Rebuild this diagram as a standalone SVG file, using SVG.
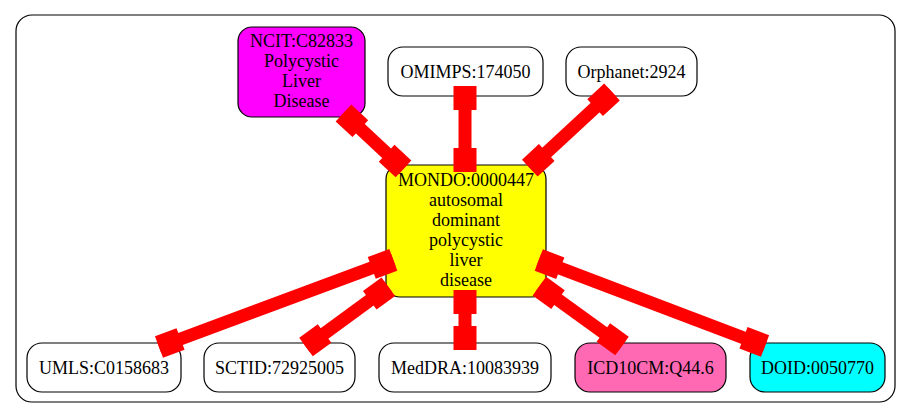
<svg xmlns="http://www.w3.org/2000/svg" width="912" height="419" viewBox="0 0 912 419">
<style>
  .node rect { stroke: #000; stroke-width: 1.2; }
  .node text { font-family: "Liberation Serif", "Times New Roman", serif; font-size: 18px; fill: #000; text-anchor: middle; }
  .edge line { stroke: #ff0000; stroke-width: 13; }
  .edge rect { fill: #ff0000; }
</style>
<rect x="16" y="15" width="879" height="387" rx="16" ry="16" fill="#fff" stroke="#000" stroke-width="1.2"/>

<g id="node-mondo" class="node">
  <rect x="386" y="165" width="160" height="132" rx="14" fill="#ffff00"/>
  <text x="466" y="186">MONDO:0000447</text>
  <text x="466" y="206">autosomal</text>
  <text x="466" y="226">dominant</text>
  <text x="466" y="246">polycystic</text>
  <text x="466" y="266">liver</text>
  <text x="466" y="286">disease</text>
</g>
<g id="node-ncit" class="node">
  <rect x="238" y="27" width="127" height="90" rx="14" fill="#ff00ff"/>
  <text x="301.5" y="47">NCIT:C82833</text>
  <text x="301.5" y="67">Polycystic</text>
  <text x="301.5" y="87">Liver</text>
  <text x="301.5" y="107">Disease</text>
</g>
<g id="node-omimps" class="node">
  <rect x="388" y="47" width="155" height="49" rx="15" fill="#fff"/>
  <text x="465.5" y="77.5">OMIMPS:174050</text>
</g>
<g id="node-orphanet" class="node">
  <rect x="566" y="47" width="131" height="49" rx="15" fill="#fff"/>
  <text x="631.5" y="77.5">Orphanet:2924</text>
</g>
<g id="node-umls" class="node">
  <rect x="27" y="343" width="154" height="49" rx="15" fill="#fff"/>
  <text x="104" y="373.5">UMLS:C0158683</text>
</g>
<g id="node-sctid" class="node">
  <rect x="204" y="343" width="151" height="49" rx="15" fill="#fff"/>
  <text x="279.5" y="373.5">SCTID:72925005</text>
</g>
<g id="node-meddra" class="node">
  <rect x="379" y="343" width="172" height="49" rx="15" fill="#fff"/>
  <text x="465" y="373.5">MedDRA:10083939</text>
</g>
<g id="node-icd10cm" class="node">
  <rect x="575" y="343" width="151" height="49" rx="15" fill="#ff69b4"/>
  <text x="650.5" y="373.5">ICD10CM:Q44.6</text>
</g>
<g id="node-doid" class="node">
  <rect x="750" y="343" width="135" height="49" rx="15" fill="#00ffff"/>
  <text x="817.5" y="373.5">DOID:0050770</text>
</g>

<g id="edges">
  <g class="edge" transform="translate(343.5,113) rotate(43)">
    <line x1="0" y1="0" x2="82" y2="0"/>
    <rect x="0" y="-11.5" width="23" height="23"/>
    <rect x="59" y="-11.5" width="23" height="23"/>
  </g>
  <g class="edge" transform="translate(465,86) rotate(90)">
    <line x1="0" y1="0" x2="86" y2="0"/>
    <rect x="0" y="-11.5" width="24" height="23"/>
    <rect x="62" y="-11.5" width="24" height="23"/>
  </g>
  <g class="edge" transform="translate(612,92) rotate(137.2)">
    <line x1="0" y1="0" x2="112" y2="0"/>
    <rect x="0" y="-11.5" width="23" height="23"/>
    <rect x="89" y="-11.5" width="23" height="23"/>
  </g>
  <g class="edge" transform="translate(159,347) rotate(-20.4)">
    <line x1="0" y1="0" x2="250" y2="0"/>
    <rect x="0" y="-11.5" width="23" height="23"/>
    <rect x="227" y="-11.5" width="23" height="23"/>
  </g>
  <g class="edge" transform="translate(306,347) rotate(-36.2)">
    <line x1="0" y1="0" x2="102" y2="0"/>
    <rect x="0" y="-11.5" width="23" height="23"/>
    <rect x="79" y="-11.5" width="23" height="23"/>
  </g>
  <g class="edge" transform="translate(465,350) rotate(-90)">
    <line x1="0" y1="0" x2="60" y2="0"/>
    <rect x="0" y="-11.5" width="24" height="23"/>
    <rect x="36" y="-11.5" width="24" height="23"/>
  </g>
  <g class="edge" transform="translate(622,346) rotate(-144.1)">
    <line x1="0" y1="0" x2="102" y2="0"/>
    <rect x="0" y="-11.5" width="23" height="23"/>
    <rect x="79" y="-11.5" width="23" height="23"/>
  </g>
  <g class="edge" transform="translate(765,346) rotate(-159.2)">
    <line x1="0" y1="0" x2="242" y2="0"/>
    <rect x="0" y="-11.5" width="23" height="23"/>
    <rect x="219" y="-11.5" width="23" height="23"/>
  </g>
</g>
</svg>
